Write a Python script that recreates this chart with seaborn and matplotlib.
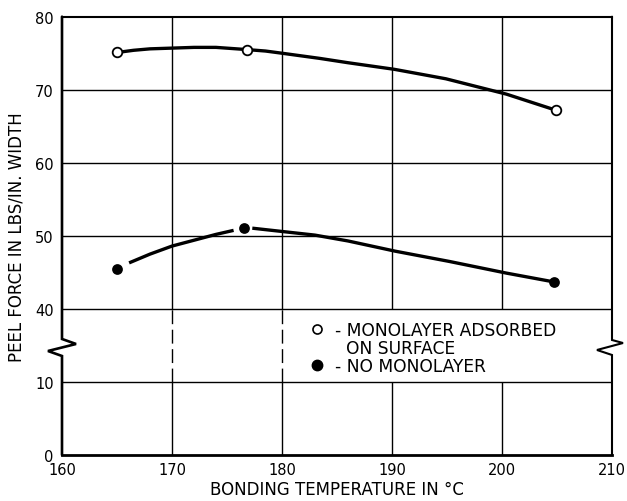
import numpy as np
import pandas as pd
import matplotlib
matplotlib.use("Agg")
import matplotlib.pyplot as plt
from matplotlib.lines import Line2D
import seaborn as sns

# ---- data ----
mono_temp = [165.0, 176.8, 204.9]
mono_force = [75.1, 75.5, 67.2]
none_temp = [165.0, 176.5, 204.7]
none_force = [45.4, 51.1, 43.7]

# traced hand-drawn curves
mono_curve_x = [165.0, 166.5, 168.0, 170.0, 172.0, 174.0, 176.8, 178.5, 180.0, 183.4, 186.0, 190.2, 194.9, 200.4, 204.9]
mono_curve_y = [75.1, 75.4, 75.6, 75.7, 75.8, 75.8, 75.5, 75.3, 75.0, 74.3, 73.7, 72.8, 71.5, 69.4, 67.2]
none_curve_a_x = [166.1, 168.0, 170.0, 172.5, 174.0, 175.6]
none_curve_a_y = [46.3, 47.5, 48.6, 49.6, 50.2, 50.75]
none_curve_b_x = [177.3, 180.0, 183.0, 186.0, 190.3, 195.2, 200.4, 204.7]
none_curve_b_y = [51.05, 50.6, 50.1, 49.3, 47.9, 46.5, 44.9, 43.7]

x_ticks = [160, 170, 180, 190, 200, 210]
y_ticks = [0, 10, 40, 50, 60, 70, 80]
x_label = "BONDING TEMPERATURE IN °C"
y_label = "PEEL FORCE IN LBS/IN. WIDTH"
legend_labels = ["- MONOLAYER ADSORBED", "  ON SURFACE", "- NO MONOLAYER"]

# ---- styling ----
sns.set_theme(style="white")
plt.rcParams["font.family"] = ["DejaVu Sans"]
plt.rcParams["text.color"] = "black"

fig = plt.figure(figsize=(6.27, 5.02), dpi=100)
ax = fig.add_axes([62 / 627, 46 / 502, 550 / 627, 438.3 / 502])


def fwd(y):
    y = np.asarray(y, dtype=float)
    return np.where(y <= 10, y, np.where(y >= 40, y - 20, 10 + (y - 10) / 3.0))


def inv(v):
    v = np.asarray(v, dtype=float)
    return np.where(v <= 10, v, np.where(v >= 20, v + 20, 10 + (v - 10) * 3.0))


ax.set_yscale("function", functions=(fwd, inv))
ax.set_xlim(160, 210)
ax.set_ylim(0, 80)

# grid lines
gkw = dict(color="black", lw=1.0, zorder=1)
for yv in [10, 40, 50, 60, 70]:
    ax.axhline(yv, **gkw)
for xv in [170, 180, 190, 200]:
    ax.vlines(xv, 0, 10, **gkw)
    ax.vlines(xv, 40, 80, **gkw)
for xv in [170, 180]:
    ax.vlines(xv, 10, 40, linestyles=(0, (10, 4)), **gkw)

# curves
curves = pd.DataFrame({
    "temp": mono_curve_x + none_curve_a_x + none_curve_b_x,
    "force": mono_curve_y + none_curve_a_y + none_curve_b_y,
    "segment": (["mono"] * len(mono_curve_x) + ["noneA"] * len(none_curve_a_x)
                + ["noneB"] * len(none_curve_b_x)),
})
sns.lineplot(data=curves, x="temp", y="force", units="segment", estimator=None,
             sort=False, color="black", lw=2.4, ax=ax, zorder=3, legend=False,
             solid_capstyle="butt", solid_joinstyle="round")

# markers
sns.scatterplot(x=mono_temp, y=mono_force, marker="o", s=48, facecolor="white",
                edgecolor="black", linewidth=1.3, ax=ax, zorder=4)
sns.scatterplot(x=none_temp, y=none_force, marker="o", s=60, color="black",
                edgecolor="black", linewidth=0, ax=ax, zorder=4)

# spines
for s in ["left", "right"]:
    ax.spines[s].set_visible(False)
ax.spines["bottom"].set_linewidth(2.0)
ax.spines["top"].set_linewidth(1.5)
for s in ["bottom", "top"]:
    ax.spines[s].set_color("black")

ax.plot([0, 0, 0.0255, -0.0255, 0, 0], [1, 0.2647, 0.2533, 0.2373, 0.2259, 0],
        transform=ax.transAxes, color="black", lw=1.9, clip_on=False, zorder=5,
        solid_joinstyle="miter")
ax.plot([1, 1, 1.02, 0.9727, 1, 1], [1, 0.2624, 0.2555, 0.2396, 0.2282, 0],
        transform=ax.transAxes, color="black", lw=1.5, clip_on=False, zorder=5,
        solid_joinstyle="miter")

# ticks
ax.set_xticks(x_ticks)
ax.set_xticklabels([str(t) for t in x_ticks])
ax.set_yticks(y_ticks)
ax.set_yticklabels([str(t) for t in y_ticks])
ax.minorticks_off()
ax.tick_params(axis="both", length=0, labelsize=10.5, colors="black")
ax.tick_params(axis="y", pad=6)
ax.tick_params(axis="x", pad=5)

ax.set_xlabel(x_label, fontsize=12, color="black", labelpad=2)
ax.set_ylabel(y_label, fontsize=12, color="black", labelpad=7)

# legend
handles = [
    Line2D([], [], linestyle="none", marker="o", markersize=6.5, markerfacecolor="white",
           markeredgecolor="black", markeredgewidth=1.2),
    Line2D([], [], linestyle="none"),
    Line2D([], [], linestyle="none", marker="o", markersize=7.5, markerfacecolor="black",
           markeredgecolor="black"),
]
ax.legend(handles, legend_labels, loc="upper left", bbox_to_anchor=(0.435, 0.322),
          frameon=False, fontsize=12.3, handlelength=1.0, handletextpad=0.55,
          labelspacing=0.0, borderaxespad=0, labelcolor="black")

fig.savefig("out.png", dpi=100)
